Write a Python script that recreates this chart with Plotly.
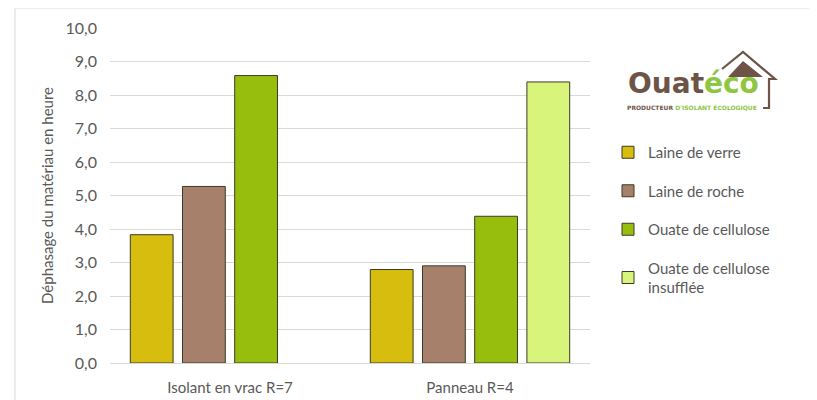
import plotly.graph_objects as go

categories = ["Isolant en vrac R=7", "Panneau R=4"]
series_names = ["Laine de verre", "Laine de roche", "Ouate de cellulose", "Ouate de cellulose<br>insufflée"]
laine_de_verre = [3.83, 2.79]
laine_de_roche = [5.27, 2.90]
ouate_de_cellulose = [8.58, 4.38]
ouate_insufflee = [None, 8.39]
y_ticks = [0, 1, 2, 3, 4, 5, 6, 7, 8, 9, 10]

colors = ["#D6BD0E", "#A6806A", "#97BE0D", "#D9F47B"]
series_values = [laine_de_verre, laine_de_roche, ouate_de_cellulose, ouate_insufflee]

OFF = 8  # page margin of the html body
W, H = 817 - OFF, 400 - OFF
ML, MT = 110 - OFF, 28 - OFF
MR = W - (590 - OFF)
MB = H - (363 - OFF)
PW, PH = W - ML - MR, H - MT - MB


def px(x):
    return (x - OFF - ML) / PW


def py(y):
    return (H - MB - (y - OFF)) / PH


FONT = "Lato"
GREY = "#595959"

fig = go.Figure()
for i, (name, vals) in enumerate(zip(series_names, series_values)):
    fig.add_trace(go.Bar(
        x=categories, y=vals, name=name,
        marker=dict(color=colors[i], line=dict(color="#3c3a2a", width=1)),
        legendgroup=f"g{i}",
        hoverinfo="skip",
    ))

shapes = []
# outer border of the chart area
shapes.append(dict(type="rect", xref="paper", yref="paper",
                   x0=px(15), x1=px(840), y0=py(420), y1=py(8),
                   line=dict(color="#d9d9d9", width=1), fillcolor="rgba(0,0,0,0)", layer="below"))

# logo house
pts = [(722, 69), (743, 52), (775, 79), (769, 79), (769, 108), (763, 108)]
path = "M " + " L ".join(f"{px(a):.5f},{py(b):.5f}" for a, b in pts)
shapes.append(dict(type="path", xref="paper", yref="paper", path=path,
                   line=dict(color="#6d5446", width=2.2)))
roof = [(728, 77), (743, 61), (763, 77)]
rpath = "M " + " L ".join(f"{px(a):.5f},{py(b):.5f}" for a, b in roof) + " Z"
shapes.append(dict(type="path", xref="paper", yref="paper", path=rpath,
                   line=dict(color="#6d5446", width=0), fillcolor="#6d5446"))

annotations = [
    dict(xref="paper", yref="paper", x=px(693), y=py(84), xanchor="center", yanchor="middle",
         text="<b><span style='color:#6d5446'>Ouat</span><span style='color:#8dc63f'>éco</span></b>",
         showarrow=False, font=dict(family="DejaVu Sans", size=28)),
    dict(xref="paper", yref="paper", x=px(692), y=py(107), xanchor="center", yanchor="middle",
         text="<b><span style='color:#6d5446'>PRODUCTEUR</span> <span style='color:#8dc63f'>D'ISOLANT ÉCOLOGIQUE</span></b>",
         showarrow=False, font=dict(family="DejaVu Sans", size=6)),
]

fig.update_layout(
    width=W, height=H,
    margin=dict(l=ML, r=MR, t=MT, b=MB, autoexpand=False),
    paper_bgcolor="white", plot_bgcolor="white",
    barmode="group", bargap=0.13, bargroupgap=0.18,
    separators=", ",
    font=dict(family=FONT, color=GREY, size=15),
    showlegend=True,
    legend=dict(x=px(608), y=py(136), xanchor="left", yanchor="top",
                font=dict(family=FONT, size=15, color=GREY),
                tracegroupgap=16, bgcolor="rgba(0,0,0,0)", traceorder="grouped"),
    shapes=shapes,
    annotations=annotations,
)
fig.update_xaxes(showgrid=False, showline=False, ticks="", ticklabelstandoff=14,
                 tickfont=dict(family=FONT, size=15, color=GREY))
fig.update_yaxes(range=[0, 10], tickvals=y_ticks, tickformat=".1f",
                 showgrid=True, gridcolor="#d9d9d9", gridwidth=1,
                 zeroline=True, zerolinecolor="#d9d9d9", zerolinewidth=1,
                 showline=False, ticks="", ticklabelstandoff=12,
                 tickfont=dict(family=FONT, size=16, color=GREY),
                 title=dict(text="Déphasage du matériau en heure", standoff=8,
                            font=dict(family=FONT, size=15, color=GREY)))

fig.write_html("out.html")
